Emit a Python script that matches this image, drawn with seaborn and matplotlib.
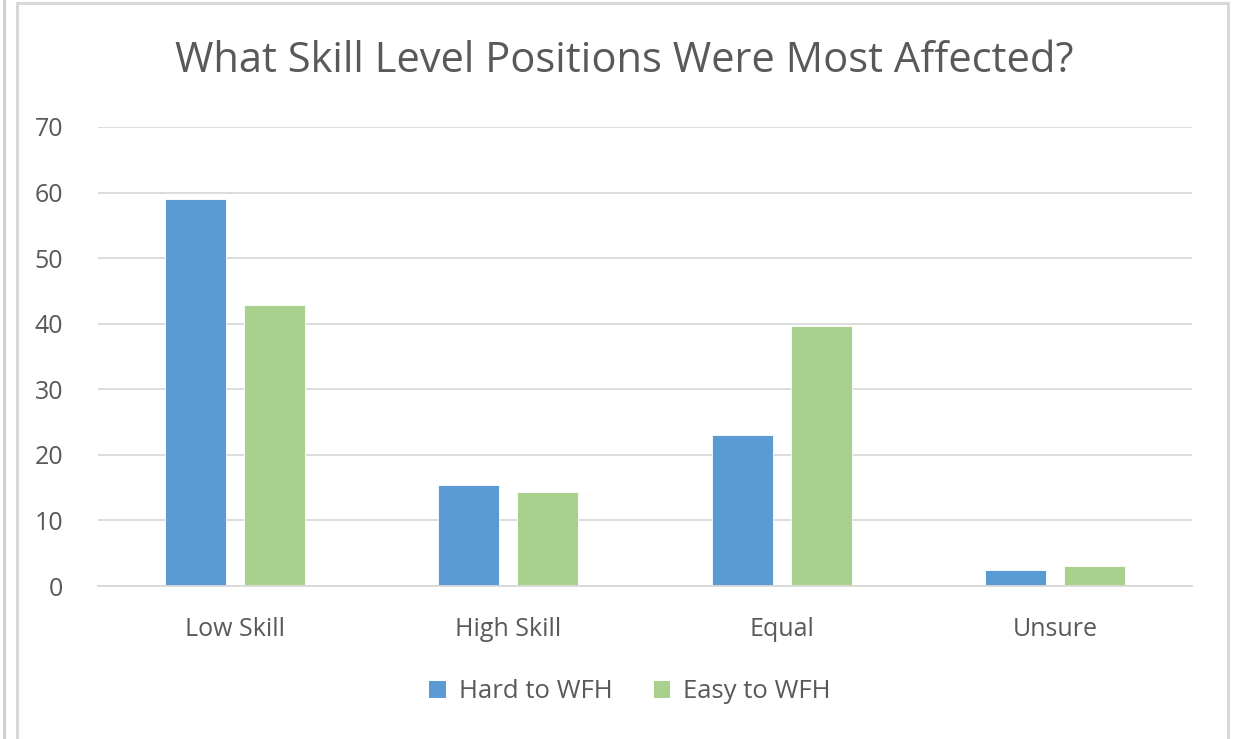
import matplotlib
matplotlib.use("Agg")
import matplotlib.pyplot as plt
import seaborn as sns
import pandas as pd
from matplotlib.patches import Rectangle
from matplotlib.lines import Line2D

categories = ["Low Skill", "High Skill", "Equal", "Unsure"]
series_names = ["Hard to WFH", "Easy to WFH"]
hard_values = [59, 15.4, 23, 2.5]
easy_values = [42.8, 14.3, 39.7, 3.0]
y_ticks = [0, 10, 20, 30, 40, 50, 60, 70]
title = "What Skill Level Positions Were Most Affected?"

colors = ["#5B9BD5", "#A9D18E"]
text_color = "#595959"
grid_color = "#D9D9D9"

df = pd.DataFrame({
    "category": categories * 2,
    "series": [series_names[0]] * len(categories) + [series_names[1]] * len(categories),
    "value": hard_values + easy_values,
})

sns.set_theme(style="white")
plt.rcParams['font.family'] = ['Open Sans', 'DejaVu Sans']

W, H = 1235, 739
fig = plt.figure(figsize=(W / 100, H / 100), dpi=100)
ax = fig.add_axes([98 / W, 1 - 586 / H, (1192 - 98) / W, (586 - 127) / H])

sns.barplot(data=df, x="category", y="value", hue="series", order=categories,
            hue_order=series_names, palette=colors, width=0.579, gap=0.228,
            saturation=1, ax=ax, legend=False)

ax.set_xlim(-0.5, len(categories) - 0.5)
ax.set_ylim(0, 70)
ax.set_yticks(y_ticks)
ax.set_yticklabels([str(t) for t in y_ticks], fontsize=18, color=text_color)
ax.tick_params(axis="y", length=0, pad=25)
ax.tick_params(axis="x", length=0, pad=22, labelsize=18, labelcolor=text_color)
ax.set_xlabel("")
ax.set_ylabel("")
ax.grid(axis="y", color=grid_color, linewidth=1.3)
ax.set_axisbelow(True)
for s in ["top", "right", "left"]:
    ax.spines[s].set_visible(False)
ax.spines["bottom"].set_color(grid_color)
ax.spines["bottom"].set_linewidth(1.3)
for p in ax.patches:
    p.set_edgecolor("white")
    p.set_linewidth(0.6)

fig.text(624 / W, 1 - 61 / H, title, ha="center", va="center", fontsize=30, color=text_color)

handles = [Rectangle((0, 0), 1, 1, facecolor=c, edgecolor="none") for c in colors]
fig.legend(handles, series_names, loc="center", bbox_to_anchor=(630 / W, 1 - 692 / H),
           ncol=2, frameon=False, fontsize=18.5, labelcolor=text_color,
           handlelength=0.65, handleheight=0.65, handletextpad=0.5, columnspacing=1.6)

# chart border and left edge line
fig.add_artist(Rectangle((17 / W, -0.05), (1228 - 17) / W, 1.05 - 3 / H,
                         transform=fig.transFigure, fill=False, edgecolor="#D9D9D9", linewidth=2.2))
fig.add_artist(Line2D([3.5 / W, 3.5 / W], [0, 1], transform=fig.transFigure,
                      color="#D0D0D0", linewidth=2.2))

fig.savefig("out.png", dpi=100, facecolor="white")
